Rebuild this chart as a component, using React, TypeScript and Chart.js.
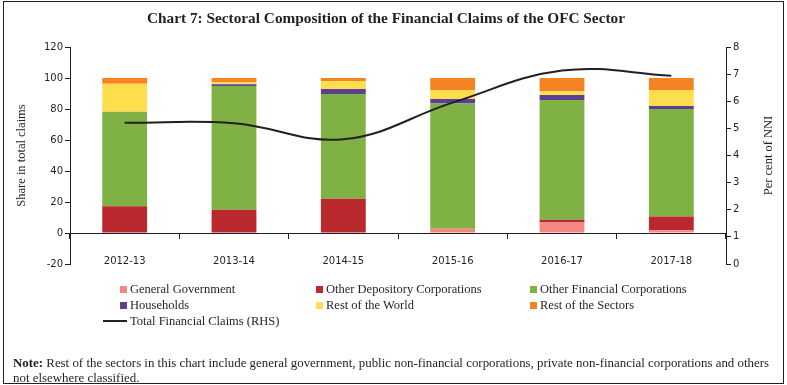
import React, { useEffect, useRef } from "react";
import { Chart, registerables } from "chart.js";

Chart.register(...registerables);

const categories = ["2012-13", "2013-14", "2014-15", "2015-16", "2016-17", "2017-18"];
const generalGovernment = [0, 0, 0, 2.8, 6.8, 1.7];
const otherDepository = [17.2, 15.0, 22.1, 0, 1.8, 9.0];
const otherFinancial = [61.1, 79.9, 67.6, 80.7, 77.2, 69.3];
const households = [0, 1.1, 3.2, 3.0, 3.3, 2.0];
const restOfWorld = [18.0, 1.2, 5.2, 5.8, 2.5, 10.3];
const restOfSectors = [3.7, 2.8, 1.9, 7.7, 8.4, 7.7];
const totalFinancialClaims = [5.21, 5.19, 4.6, 5.95, 7.13, 6.94];

const leftAxis = { min: -20, max: 120, step: 20, title: "Share in total claims" };
const rightAxis = { min: 0, max: 8, step: 1, title: "Per cent of NNI" };

const titleText = "Chart 7: Sectoral Composition of the Financial Claims of the OFC Sector";
const noteLabel = "Note:";
const noteLine1 = " Rest of the sectors in this chart include general government, public non-financial corporations, private non-financial corporations and others";
const noteLine2 = "not elsewhere classified.";

const INK = "#231F20";
const SERIF = '"Liberation Serif", "Times New Roman", serif';
const SANS = '"DejaVu Sans", Verdana, sans-serif';

const barSeries = [
  { label: "General Government", data: generalGovernment, color: "#F4877F" },
  { label: "Other Depository Corporations", data: otherDepository, color: "#BA292D" },
  { label: "Other Financial Corporations", data: otherFinancial, color: "#80B144" },
  { label: "Households", data: households, color: "#5B3F97" },
  { label: "Rest of the World", data: restOfWorld, color: "#FEDD4F" },
  { label: "Rest of the Sectors", data: restOfSectors, color: "#F58223" },
];
const lineSeries = { label: "Total Financial Claims (RHS)", data: totalFinancialClaims, color: INK };

const axisTitlesPlugin = {
  id: "axisTitles",
  afterDraw(chart: any) {
    const { ctx, chartArea } = chart;
    const cy = (chartArea.top + chartArea.bottom) / 2;
    ctx.save();
    ctx.fillStyle = INK;
    ctx.font = `12.5px ${SERIF}`;
    ctx.textAlign = "center";
    ctx.textBaseline = "middle";
    const items: [string, number][] = [
      [leftAxis.title, chartArea.left - 48],
      [rightAxis.title, chartArea.right + 43],
    ];
    for (const [t, x] of items) {
      ctx.save();
      ctx.translate(x, cy);
      ctx.rotate(-Math.PI / 2);
      ctx.fillText(t, 0, 0);
      ctx.restore();
    }
    ctx.restore();
  },
};

export default function App() {
  const ref = useRef<HTMLCanvasElement | null>(null);

  useEffect(() => {
    if (!ref.current) return;
    const tickFont = { family: SANS, size: 10 };
    const chart = new Chart(ref.current, {
      type: "bar",
      data: {
        labels: categories,
        datasets: [
          {
            type: "line",
            label: lineSeries.label,
            data: lineSeries.data,
            borderColor: lineSeries.color,
            backgroundColor: lineSeries.color,
            borderWidth: 2,
            pointRadius: 0,
            tension: 0.4,
            yAxisID: "y1",
            order: 0,
          } as any,
          ...barSeries.map((s) => ({
            type: "bar",
            label: s.label,
            data: s.data,
            backgroundColor: s.color,
            borderWidth: 0,
            barPercentage: 0.41,
            categoryPercentage: 1,
            yAxisID: "y",
            order: 1,
          })),
        ],
      },
      options: {
        responsive: false,
        animation: false,
        events: [],
        layout: { padding: { left: 10, right: 21, top: 47, bottom: 121 } },
        plugins: { legend: { display: false }, tooltip: { enabled: false }, title: { display: false } },
        scales: {
          x: {
            type: "category",
            position: { y: 0 } as any,
            stacked: true,
            offset: true,
            grid: { offset: true, drawOnChartArea: false, tickLength: 5, color: INK, lineWidth: 1 },
            border: { display: true, color: INK, width: 1 },
            ticks: { color: INK, font: tickFont, padding: 17, maxRotation: 0 },
            afterFit: (s: any) => {
              s.height = 0;
            },
          },
          y: {
            position: "left",
            stacked: true,
            min: leftAxis.min,
            max: leftAxis.max,
            ticks: { stepSize: leftAxis.step, color: INK, font: tickFont, padding: 2 },
            grid: { drawOnChartArea: false, tickLength: 5, color: INK, lineWidth: 1 },
            border: { display: true, color: INK, width: 1 },
            afterFit: (s: any) => {
              s.width = 60;
            },
          },
          y1: {
            position: "right",
            min: rightAxis.min,
            max: rightAxis.max,
            ticks: { stepSize: rightAxis.step, color: INK, font: tickFont, padding: 2 },
            grid: { drawOnChartArea: false, tickLength: 5, color: INK, lineWidth: 1 },
            border: { display: true, color: INK, width: 1 },
            afterFit: (s: any) => {
              s.width = 40;
            },
          },
        },
      } as any,
      plugins: [axisTitlesPlugin],
    });
    return () => chart.destroy();
  }, []);

  const legendFont: React.CSSProperties = { fontFamily: SERIF, fontSize: 12.5, color: INK, whiteSpace: "nowrap" };
  const colX = [120, 316, 530];
  const rowY = [289, 305, 321];

  return (
    <div style={{ position: "fixed", left: 0, top: 0, width: 787, height: 385, background: "#fff", overflow: "hidden" }}>
      <canvas ref={ref} width={787} height={385} style={{ position: "absolute", left: 0, top: 0, width: 787, height: 385 }} />
      <div
        style={{
          position: "absolute",
          left: 3,
          top: 1,
          width: 781,
          height: 383,
          border: `1px solid ${INK}`,
          boxSizing: "border-box",
          pointerEvents: "none",
        }}
      />
      <div
        style={{
          position: "absolute",
          left: 0,
          top: 8,
          width: 772,
          textAlign: "center",
          fontFamily: SERIF,
          fontWeight: "bold",
          fontSize: 15.3,
          color: INK,
          lineHeight: "20px",
        }}
      >
        {titleText}
      </div>
      {barSeries.map((s, i) => (
        <div
          key={s.label}
          style={{
            position: "absolute",
            left: colX[i % 3],
            top: rowY[Math.floor(i / 3)] - 8,
            height: 16,
            display: "flex",
            alignItems: "center",
            ...legendFont,
          }}
        >
          <span style={{ display: "inline-block", width: 7, height: 7, background: s.color, marginRight: 3 }} />
          <span>{s.label}</span>
        </div>
      ))}
      <div
        style={{
          position: "absolute",
          left: colX[0] - 17,
          top: rowY[2] - 8,
          height: 16,
          display: "flex",
          alignItems: "center",
          ...legendFont,
        }}
      >
        <span style={{ display: "inline-block", width: 24, height: 2, background: lineSeries.color, marginRight: 3 }} />
        <span>{lineSeries.label}</span>
      </div>
      <div
        style={{
          position: "absolute",
          left: 13,
          top: 356,
          width: 770,
          fontFamily: SERIF,
          fontSize: 12.9,
          color: INK,
          lineHeight: "15px",
          whiteSpace: "nowrap",
        }}
      >
        <b>{noteLabel}</b>
        {noteLine1}
        <br />
        {noteLine2}
      </div>
    </div>
  );
}
